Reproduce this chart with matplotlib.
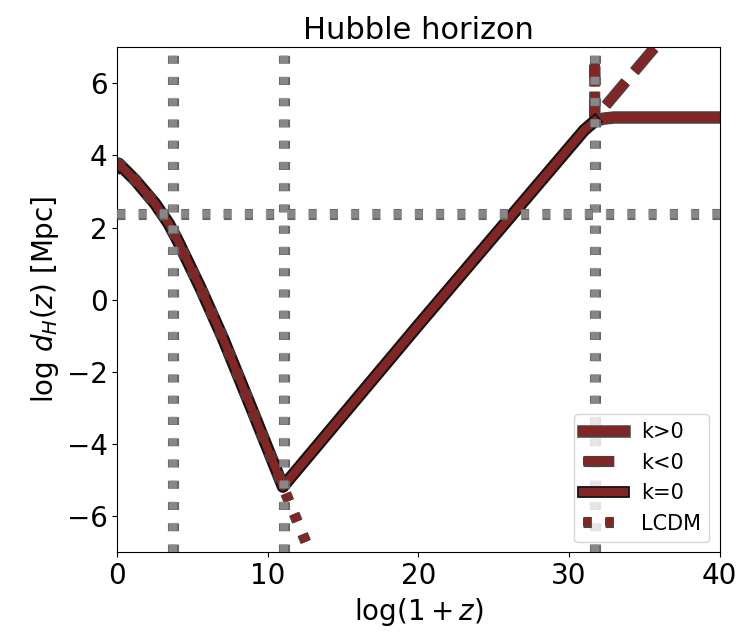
import numpy as np
import matplotlib.pyplot as plt
import matplotlib.patheffects as pe

# Values
x_fall = [0.0, 0.1, 1.2, 2.5, 3.4, 4.0, 5.5, 7.0, 9.0, 11.0]
y_fall = [3.70, 3.77, 3.31, 2.67, 2.12, 1.65, 0.35, -1.05, -3.10, -5.18]
x_rise = [11.0, 20.0, 31.0, 31.7]
y_rise = [-5.18, -0.70, 4.70, 4.95]
x_plateau = [31.7, 32.3, 33.0, 34.0, 40.0]
y_plateau = [4.95, 5.02, 5.05, 5.05, 5.05]
x_open = [31.7, 31.7, 31.7, 35.8]
y_open = [4.95, 6.45, 5.02, 7.05]
x_lcdm_tail = [11.0, 13.2]
y_lcdm_tail = [-5.18, -7.4]

v_marks = [3.7, 11.05, 31.7]
h_marks = [2.38]

red = '#822525'

k_pos_x = x_fall + x_rise[1:] + x_plateau[1:]
k_pos_y = y_fall + y_rise[1:] + y_plateau[1:]
k_neg_x = x_fall + x_rise[1:] + x_open[1:]
k_neg_y = y_fall + y_rise[1:] + y_open[1:]
k_zero_x = x_fall + x_rise[1:]
k_zero_y = y_fall + y_rise[1:]
lcdm_x = x_fall + x_lcdm_tail[1:]
lcdm_y = y_fall + y_lcdm_tail[1:]

fig = plt.figure(figsize=(7.42, 6.37), dpi=100)
ax = fig.add_subplot(111)
fig.subplots_adjust(left=0.158, right=0.970, top=0.926, bottom=0.133)

ax.plot(k_pos_x, k_pos_y, '-', color=red, lw=7, label='k>0',
        path_effects=[pe.withStroke(linewidth=9, foreground='#444444')])
ax.plot(k_neg_x, k_neg_y, '--', color=red, lw=6, label='k<0',
        path_effects=[pe.withStroke(linewidth=8, foreground='#444444')])
ax.plot(k_zero_x, k_zero_y, '-', color=red, lw=6, label='k=0',
        path_effects=[pe.withStroke(linewidth=8.5, foreground='#111111')])
ax.plot(lcdm_x, lcdm_y, ':', color=red, lw=6, label='LCDM',
        path_effects=[pe.withStroke(linewidth=8, foreground='#444444')])

for xv in v_marks:
    ax.axvline(xv, color='#999999', lw=6, alpha=0.65, dashes=(0.95, 1.6), zorder=3,
               path_effects=[pe.withStroke(linewidth=8, foreground='#666666')])
for yv in h_marks:
    ax.axhline(yv, color='#999999', lw=6, alpha=0.65, dashes=(0.95, 1.6), zorder=3,
               path_effects=[pe.withStroke(linewidth=8, foreground='#666666')])

ax.set_xlim(0, 40)
ax.set_ylim(-7, 7)
ax.set_xticks([0, 10, 20, 30, 40])
ax.set_yticks([-6, -4, -2, 0, 2, 4, 6])
ax.tick_params(labelsize=20)
ax.set_title('Hubble horizon', fontsize=22)
ax.set_xlabel(r'$\log(1+z)$', fontsize=20)
ax.set_ylabel(r'log $d_H(z)$ [Mpc]', fontsize=20)
ax.legend(loc='lower right', fontsize=15)

fig.savefig('out.png', dpi=100)
